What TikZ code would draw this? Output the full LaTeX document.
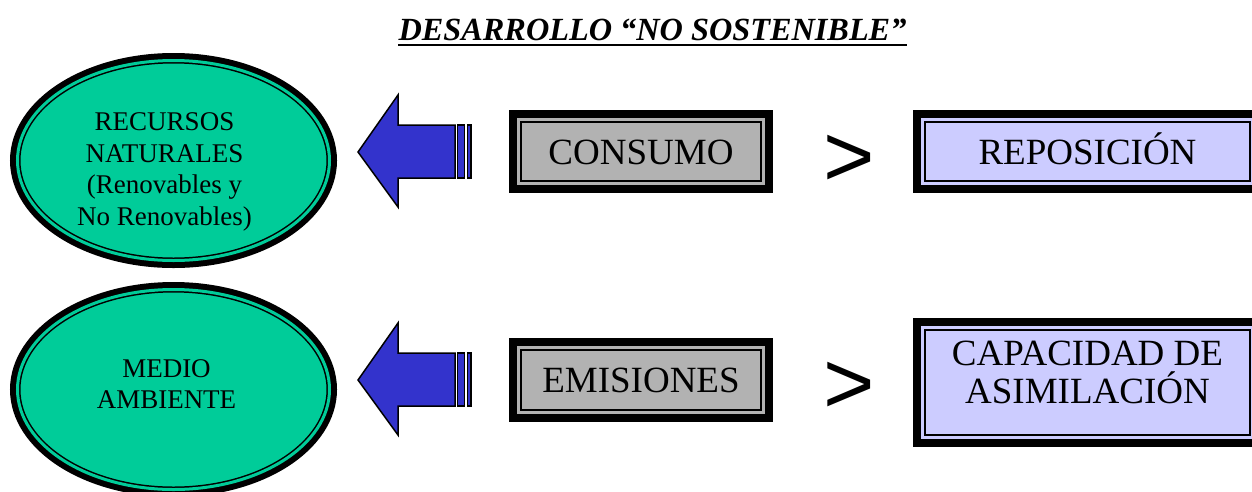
\documentclass[tikz,border=0pt]{standalone}
\usepackage{fontspec}
\setmainfont{Liberation Serif}
\newfontfamily\signfont{Liberation Sans}
\usetikzlibrary{shapes.geometric}
\definecolor{recgreen}{RGB}{0,204,153}
\definecolor{boxgray}{RGB}{178,178,178}
\definecolor{boxlila}{RGB}{204,204,255}
\definecolor{arrowblue}{RGB}{51,51,204}

\tikzset{
  ringell/.style={ellipse, draw=black, fill=recgreen, double=recgreen, double distance=3pt,
    line width=1.5pt, preaction={draw=black, line width=15pt},
    minimum width=312pt, minimum height=200pt, inner sep=0pt},
  elltext/.style={align=center, font=\fontsize{27}{31.5}\selectfont},
  framebox/.style={rectangle, draw=black, fill=#1, double=#1, double distance=3pt,
    line width=2pt, preaction={draw=black, line width=19pt},
    minimum height=64pt, inner sep=0pt, text height=25pt, text depth=0pt,
    font=\fontsize{37}{38}\selectfont},
  boxtext/.style={align=center, font=\fontsize{37}{38}\selectfont},
  blockarrow/.style={draw=black, fill=arrowblue, line width=1.5pt, line join=miter},
  gtsign/.style={inner sep=0pt, font=\signfont\fontsize{88}{88}\selectfont}
}

\begin{document}
\begin{tikzpicture}[x=1pt, y=-1pt]
\useasboundingbox (0,0) rectangle (1252,491);
\clip (0,0) rectangle (1252,491);

% title
\node[font=\fontsize{32.3}{32}\selectfont\bfseries\itshape, inner sep=0pt, anchor=base] (titulo) at (652.5,40) {DESARROLLO “NO SOSTENIBLE”};
\draw[line width=2pt] ([yshift=-5pt]titulo.base west) -- ([yshift=-5pt]titulo.base east);

% first row: recursos naturales
\node[ringell, label={[elltext, xshift=-9pt, yshift=-11.5pt]center:RECURSOS\\NATURALES\\(Renovables y\\No Renovables)}] (recursos) at (173.5,160.5) {};
\node[framebox=boxgray, minimum width=245pt] (consumo) at (641,151.5) {CONSUMO};
\node[gtsign] (mayor1) at (849,161) {>};
\node[framebox=boxlila, minimum width=330pt] (reposicion) at (1087.5,151.5) {REPOSICIÓN};

% arrow consumo -> recursos
\draw[blockarrow] (358,152) -- (398,95) -- (398,125) -- (455,125) -- (455,178) -- (398,178) -- (398,207) -- cycle;
\draw[blockarrow] (457.5,125) rectangle (464.5,178);
\draw[blockarrow] (467.5,125) rectangle (471,178);

% second row: medio ambiente
\node[ringell, label={[elltext, xshift=-7pt, yshift=5.5pt]center:MEDIO\\AMBIENTE}] (medio) at (173.5,389.5) {};
\node[framebox=boxgray, minimum width=245pt, minimum height=65pt] (emisiones) at (641,380) {EMISIONES};
\node[gtsign] (mayor2) at (849,387.5) {>};
\node[framebox=boxlila, minimum width=330pt, minimum height=110pt,
  label={[boxtext, yshift=10pt]center:CAPACIDAD DE\\ASIMILACIÓN}] (capacidad) at (1087.5,382.5) {};

% arrow emisiones -> medio
\draw[blockarrow] (358,380) -- (398,323) -- (398,353) -- (455,353) -- (455,406) -- (398,406) -- (398,435) -- cycle;
\draw[blockarrow] (457.5,353) rectangle (464.5,406);
\draw[blockarrow] (467.5,353) rectangle (471,406);
\end{tikzpicture}
\end{document}
